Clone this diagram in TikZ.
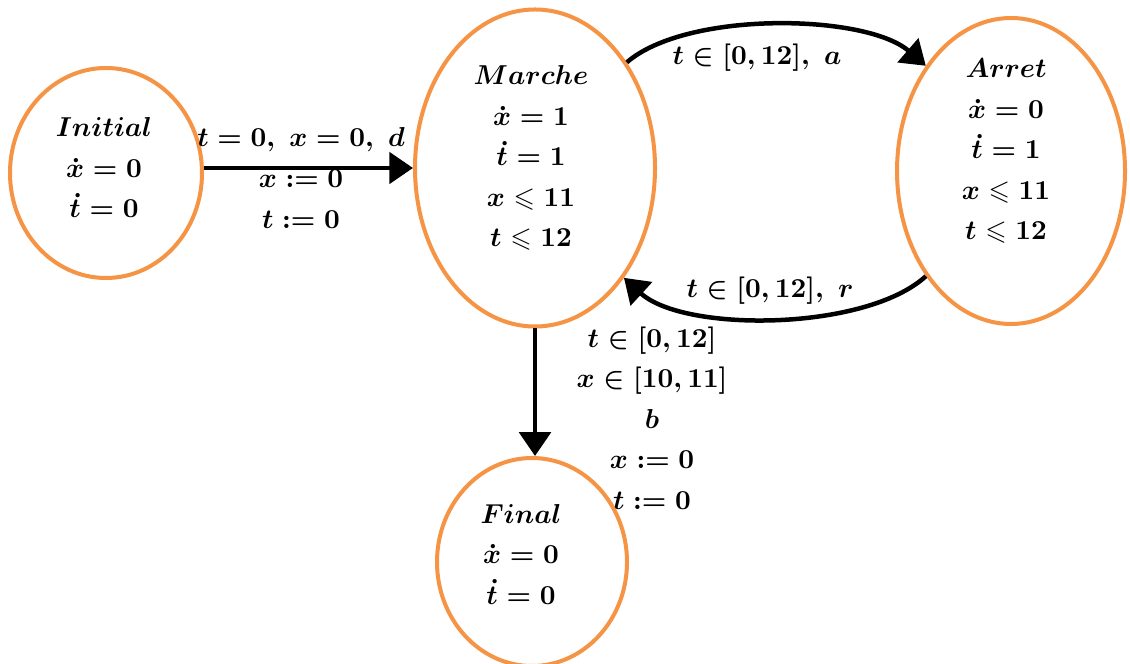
\documentclass[tikz,border=0pt]{standalone}
\usepackage{amssymb}
\usetikzlibrary{shapes.geometric,arrows.meta}
\definecolor{stateorange}{RGB}{245,148,68}
\begin{document}
\begin{tikzpicture}[x=0.4pt,y=-0.4pt,
  state/.style={ellipse,draw=stateorange,line width=1.6pt,inner sep=0pt},
  txt/.style={align=center,font=\fontsize{11}{16.2}\selectfont\boldmath,inner sep=0pt},
  arr/.style={line width=1.8pt,-{Triangle[length=9.5pt,width=12.5pt]}}]
\useasboundingbox (0,0) rectangle (1130,664);
% states
\node[state,minimum width=76.8pt,minimum height=84pt] (init) at (106,173) {};
\node[state,minimum width=96pt,minimum height=126.8pt] (marche) at (535,168) {};
\node[state,minimum width=91.2pt,minimum height=122.4pt] (arret) at (1011,171) {};
\node[state,minimum width=76pt,minimum height=83.2pt] (final) at (532,562) {};
% state texts
\node[txt] (initT) at (104,168) {$Initial$\\ $\dot{x}=0$\\ $\dot{t}=0$};
\node[txt] (marcheT) at (531,158) {$Marche$\\ $\dot{x}=1$\\ $\dot{t}=1$\\ $x\leqslant 11$\\ $t\leqslant 12$};
\node[txt] (arretT) at (1006,151) {$Arret$\\ $\dot{x}=0$\\ $\dot{t}=1$\\ $x\leqslant 11$\\ $t\leqslant 12$};
\node[txt] (finalT) at (521,554) {$Final$\\ $\dot{x}=0$\\ $\dot{t}=0$};
% transitions
\draw[arr] (init.east |- marche.west) -- (marche.west);
\node[txt] (l1) at (301,178) {$t=0,\ x=0,\ d$\\ $x:=0$\\ $t:=0$};
\draw[arr] (marche.49) .. controls +(60,-52) and +(-60,-52) .. (arret.129);
\node[txt] (l2) at (757,58) {$t\in[0,12],\ a$};
\draw[arr] (arret.231) .. controls +(-60,55) and +(60,55) .. (marche.-51);
\node[txt] (l3) at (770,291) {$t\in[0,12],\ r$};
\draw[arr] (marche.south) -- (marche.south |- final.north);
\node[txt] (l4) at (652,418) {$t\in[0,12]$\\ $x\in[10,11]$\\ $b$\\ $x:=0$\\ $t:=0$};
\end{tikzpicture}
\end{document}
